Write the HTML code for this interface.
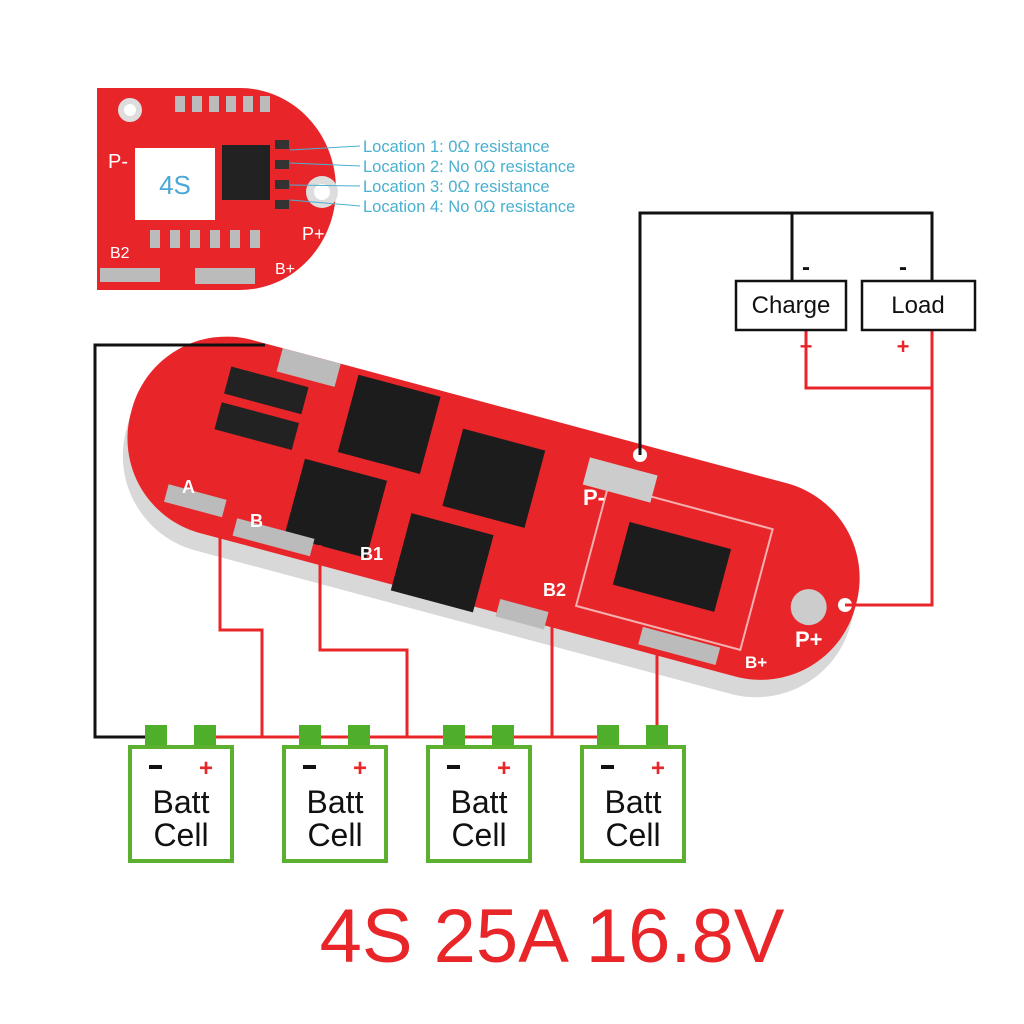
<!DOCTYPE html>
<html><head><meta charset="utf-8"><style>
html,body{margin:0;padding:0;background:#fff;}
svg{display:block;}
text{font-family:"Liberation Sans",sans-serif;}
</style></head><body>
<svg width="1024" height="1024" viewBox="0 0 1024 1024" xmlns="http://www.w3.org/2000/svg">
<rect width="1024" height="1024" fill="#fff"/>
<!-- top-left small board -->
<path d="M97,88 H240 A95,100 0 0 1 240,290 H97 Z" fill="#e8262a"/>
<circle cx="130" cy="110" r="12" fill="#ddd"/><circle cx="130" cy="110" r="6" fill="#fff"/>
<circle cx="322" cy="192" r="16" fill="#ddd"/><circle cx="322" cy="192" r="8" fill="#fff"/>
<g fill="#bbb">
<rect x="175" y="96" width="10" height="16"/><rect x="192" y="96" width="10" height="16"/><rect x="209" y="96" width="10" height="16"/><rect x="226" y="96" width="10" height="16"/><rect x="243" y="96" width="10" height="16"/><rect x="260" y="96" width="10" height="16"/>
<rect x="150" y="230" width="10" height="18"/><rect x="170" y="230" width="10" height="18"/><rect x="190" y="230" width="10" height="18"/><rect x="210" y="230" width="10" height="18"/><rect x="230" y="230" width="10" height="18"/><rect x="250" y="230" width="10" height="18"/>
<rect x="100" y="268" width="60" height="14"/><rect x="195" y="268" width="60" height="16"/>
</g>
<rect x="222" y="145" width="48" height="55" fill="#222"/>
<g fill="#333"><rect x="275" y="140" width="14" height="9"/><rect x="275" y="160" width="14" height="9"/><rect x="275" y="180" width="14" height="9"/><rect x="275" y="200" width="14" height="9"/></g>
<rect x="135" y="148" width="80" height="72" fill="#fff"/>
<text x="175" y="194" font-size="26" fill="#4aa8d8" text-anchor="middle">4S</text>
<text x="108" y="168" font-size="20" fill="#fff">P-</text>
<text x="302" y="240" font-size="18" fill="#fff">P+</text>
<text x="110" y="258" font-size="16" fill="#fff">B2</text>
<text x="275" y="274" font-size="16" fill="#fff">B+</text>
<g stroke="#4ab0d0" stroke-width="1" fill="none"><path d="M290,150 L360,146"/><path d="M290,163 L360,166"/><path d="M290,185 L360,186"/><path d="M290,200 L360,206"/></g>
<g font-size="16.5" fill="#4ab0d0">
<text x="363" y="152">Location 1: 0Ω resistance</text>
<text x="363" y="172">Location 2: No 0Ω resistance</text>
<text x="363" y="192">Location 3: 0Ω resistance</text>
<text x="363" y="212">Location 4: No 0Ω resistance</text>
</g>
<!-- main board -->
<g transform="translate(492,514) rotate(15)">
<rect x="-375" y="-88" width="750" height="200" rx="98" fill="#d8d8d8"/>
<rect x="-375" y="-106" width="750" height="200" rx="98" fill="#e8262a"/>
<rect x="-290" y="-75" width="80" height="28" fill="#222"/><rect x="-290" y="-38" width="80" height="28" fill="#222"/>
<rect x="-165" y="-100" width="85" height="80" fill="#1c1c1c"/>
<rect x="-50" y="-75" width="85" height="80" fill="#1c1c1c"/>
<rect x="-195" y="-5" width="85" height="80" fill="#1c1c1c"/>
<rect x="-78" y="20" width="85" height="80" fill="#1c1c1c"/>
<rect x="135" y="-28" width="105" height="65" fill="#1c1c1c"/>
<rect x="105" y="-58" width="170" height="125" fill="none" stroke="#f5b0b0" stroke-width="2"/>
<rect x="-245" y="-106" width="60" height="24" fill="#bbb"/>
<rect x="80" y="-80" width="70" height="28" fill="#ccc"/>
<rect x="-320" y="55" width="60" height="18" fill="#bbb"/>
<rect x="-245" y="70" width="80" height="18" fill="#bbb"/>
<rect x="30" y="80" width="50" height="18" fill="#bbb"/>
<rect x="175" y="70" width="80" height="18" fill="#bbb"/>
<circle cx="330" cy="8" r="18" fill="#ccc"/>
</g>
<circle cx="640" cy="455" r="7" fill="#fff"/><circle cx="845" cy="605" r="7" fill="#fff"/>
<g font-size="22" fill="#fff" font-weight="bold">
<text x="583" y="505">P-</text><text x="795" y="647">P+</text><text x="745" y="668" font-size="17">B+</text>
<text x="543" y="596" font-size="18">B2</text><text x="360" y="560" font-size="18">B1</text><text x="250" y="527" font-size="18">B</text><text x="182" y="493" font-size="18">A</text>
</g>
<!-- wires -->
<g fill="none" stroke-width="3">
<path d="M640,455 V213 H932 V281 M792,213 V281" stroke="#111"/>
<path d="M265,345 H95 V737 H150" stroke="#111"/>
<path d="M806,330 V388 H932 V330 M932,388 V605 H845" stroke="#e8262a"/>
<path d="M220,520 V630 H262 V737 M320,545 V650 H407 V737 M552,600 V737 M657,650 V737 M215,737 H610" stroke="#e8262a"/>
</g>
<!-- charge/load -->
<g fill="#fff" stroke="#111" stroke-width="2.5"><rect x="736" y="281" width="110" height="49"/><rect x="862" y="281" width="113" height="49"/></g>
<g font-size="24" fill="#111" text-anchor="middle"><text x="791" y="313">Charge</text><text x="918" y="313">Load</text>
<text x="806" y="275" font-weight="bold">-</text><text x="903" y="275" font-weight="bold">-</text></g>
<g font-size="22" fill="#e8262a" text-anchor="middle" font-weight="bold"><text x="806" y="354">+</text><text x="903" y="354">+</text></g>
<!-- cells -->
<g id="c">
<rect x="145" y="725" width="22" height="21" fill="#4fae2a"/><rect x="194" y="725" width="22" height="21" fill="#4fae2a"/>
<rect x="130" y="747" width="102" height="114" fill="#fff" stroke="#5cb030" stroke-width="4"/>
<rect x="149" y="765" width="13" height="4" fill="#111"/>
<text x="206" y="776" font-size="24" fill="#e8262a" text-anchor="middle" font-weight="bold">+</text>
<text x="181" y="813" font-size="32" fill="#111" text-anchor="middle">Batt</text>
<text x="181" y="846" font-size="32" fill="#111" text-anchor="middle">Cell</text>
</g>
<use href="#c" x="154"/><use href="#c" x="298"/><use href="#c" x="452"/>
<text x="552" y="962" font-size="76" fill="#e8262a" text-anchor="middle">4S 25A 16.8V</text>
</svg>
</body></html>
